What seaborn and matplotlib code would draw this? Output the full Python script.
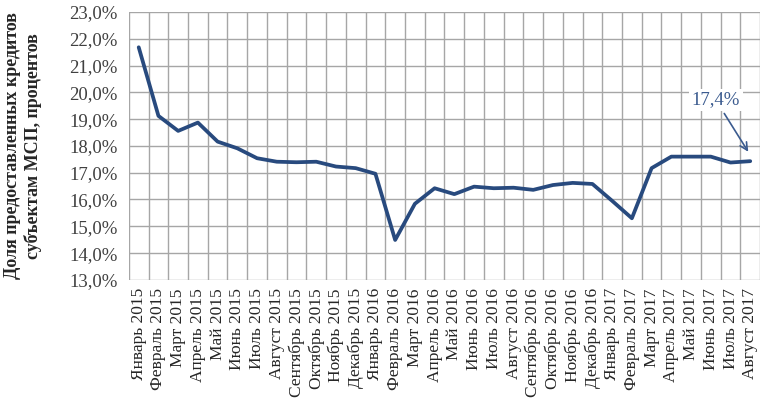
import matplotlib
matplotlib.use("Agg")
import matplotlib.pyplot as plt
import seaborn as sns
import pandas as pd
from matplotlib.ticker import FuncFormatter, MultipleLocator

# Месяцы и доля кредитов МСП (%)
months = [
    "Январь 2015", "Февраль 2015", "Март 2015", "Апрель 2015", "Май 2015",
    "Июнь 2015", "Июль 2015", "Август 2015", "Сентябрь 2015", "Октябрь 2015",
    "Ноябрь 2015", "Декабрь 2015", "Январь 2016", "Февраль 2016", "Март 2016",
    "Апрель 2016", "Май 2016", "Июнь 2016", "Июль 2016", "Август 2016",
    "Сентябрь 2016", "Октябрь 2016", "Ноябрь 2016", "Декабрь 2016",
    "Январь 2017", "Февраль 2017", "Март 2017", "Апрель 2017", "Май 2017",
    "Июнь 2017", "Июль 2017", "Август 2017",
]
share = [
    21.68, 19.12, 18.56, 18.87, 18.16, 17.91, 17.54, 17.41, 17.39, 17.41,
    17.23, 17.17, 16.96, 14.49, 15.84, 16.42, 16.20, 16.48, 16.42, 16.44,
    16.36, 16.54, 16.62, 16.58, 15.95, 15.30, 17.17, 17.60, 17.60, 17.60,
    17.38, 17.43,
]
last_label = "17,4%"

df = pd.DataFrame({"month": months, "share": share})

sns.set_style("white")
plt.rcParams["font.family"] = ["Liberation Serif", "DejaVu Serif"]

fig = plt.figure(figsize=(7.67, 4.11), dpi=100)
ax = fig.add_axes([0.168, 0.319, 0.823, 0.652])

line_color = "#284A7E"
sns.lineplot(data=df, x="month", y="share", ax=ax, color=line_color,
             linewidth=2.7, sort=False)

ax.set_ylim(13, 23)
ax.set_xlim(-0.5, len(months) - 0.5)
ax.yaxis.set_major_locator(MultipleLocator(1))
ax.yaxis.set_major_formatter(FuncFormatter(lambda v, p: f"{v:.1f}%".replace(".", ",")))

ax.set_xticks(range(len(months)))
ax.set_xticklabels(months, rotation=90, fontsize=12.5)
ax.set_xticks([i - 0.5 for i in range(len(months) + 1)], minor=True)
ax.tick_params(axis="x", which="major", length=0, pad=6)
ax.tick_params(axis="x", which="minor", length=5, color="#A6A6A6", width=1)
ax.tick_params(axis="y", length=5, color="#A6A6A6", width=1, labelsize=13.5,
               labelcolor="#404040", pad=3)

ax.grid(True, axis="y", which="major", color="#A6A6A6", linewidth=1)
ax.grid(True, axis="x", which="minor", color="#A6A6A6", linewidth=1)
ax.grid(False, axis="x", which="major")
for side in ["top", "right", "left", "bottom"]:
    ax.spines[side].set_visible(False)

ax.set_xlabel("")
ax.set_ylabel("Доля предоставленных кредитов\nсубъектам МСП, процентов",
              fontsize=13, fontweight="bold", labelpad=20, linespacing=1.15)

ax.annotate(last_label, xy=(30.9, 17.78), xytext=(29.25, 19.72),
            ha="center", va="center", fontsize=13.5, color="#3B5B8F",
            bbox=dict(boxstyle="square,pad=0.15", fc="white", ec="none"),
            arrowprops=dict(arrowstyle="->", color="#3B5B8F", lw=1.2,
                            shrinkA=2, shrinkB=0))

fig.savefig("out.png", dpi=100)
